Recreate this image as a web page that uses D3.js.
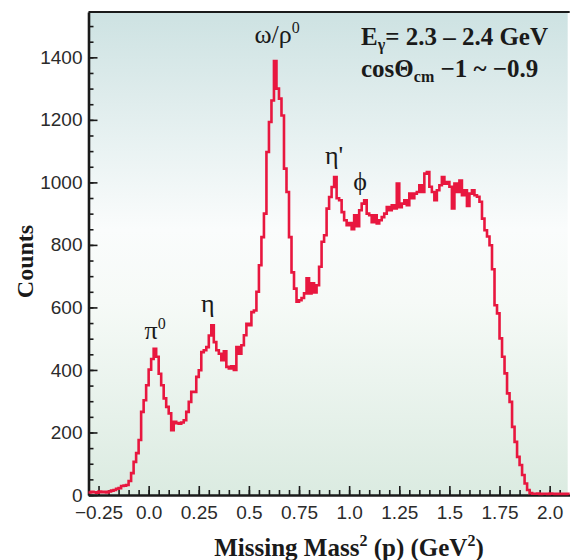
<!DOCTYPE html>
<html>
<head>
<meta charset="utf-8">
<script src="https://cdnjs.cloudflare.com/ajax/libs/d3/7.8.5/d3.min.js"></script>
<style>
    body { margin: 0; background: #fff; }
    svg { display: block; }
</style>
</head>
<body>
<div id="plot"></div>
<script>
// histogram of missing mass squared, bins of 0.0125 GeV^2 starting at -0.3
const binStart = -0.3;
const binWidth = 0.0125;
const counts = [
    8, 10, 9, 7, 11, 9, 10, 8, 11, 14, 16, 20, 22, 29, 30, 32,
    45, 70, 106, 134, 176,
    266, 303, 351, 401, 435, 468, 442, 388, 351, 309,
    282, 261, 207, 234, 230, 228, 232, 239, 266, 298,
    330, 330, 378, 399, 457, 463, 473, 510, 543, 489,
    463, 452, 431, 460, 410, 405, 412, 400, 473, 452,
    479, 511, 548, 543, 585, 590, 650, 735, 825, 900,
    1097, 1193, 1262, 1388, 1300, 1268, 1214, 1044, 969, 825,
    712, 660, 618, 623, 630, 645, 693, 645, 677, 648,
    671, 730, 810, 831, 916, 953, 985, 1017, 949, 943,
    905, 879, 863, 870, 850, 895, 860, 911, 932, 943,
    900, 895, 873, 895, 869, 879, 889, 900, 921, 911,
    927, 917, 996, 921, 932, 943, 927, 964, 949, 964,
    969, 991, 969, 1028, 1033, 986, 969, 943, 975, 991,
    1017, 996, 1001, 986, 917, 996, 969, 1006, 959, 975,
    925, 964, 975, 959, 954, 938,
    884, 847, 827, 799, 722, 607, 581, 501, 442, 389,
    325, 298, 218, 170, 122, 96, 64, 37, 16, 6,
    4, 4, 5, 3, 4, 4, 3, 5, 4, 3, 4, 3, 4, 3, 4
];

const xTicks = [-0.25, 0, 0.25, 0.5, 0.75, 1.0, 1.25, 1.5, 1.75, 2.0];
const xTickLabels = ["\u22120.25", "0.0", "0.25", "0.5", "0.75", "1.0", "1.25", "1.5", "1.75", "2.0"];
const yTicks = [0, 200, 400, 600, 800, 1000, 1200, 1400];

// peak annotations (position in data units)
const peakBase = ["\u03c0", "\u03b7", "\u03c9/\u03c1", "\u03b7'", "\u03d5"];
const peakSup = ["0", "", "0", "", ""];
const peakX = [0.032, 0.295, 0.641, 0.925, 1.055];
const peakY = [498, 585, 1445, 1060, 975];

const serif = "'Liberation Serif', 'Times New Roman', serif";
const sans = "'Liberation Sans', Arial, sans-serif";

const width = 570, height = 560;

let svg = d3.select("#plot").append("svg")
    .attr("width", width)
    .attr("height", height);

let xScale = d3.scaleLinear().domain([-0.3, 2.1]).range([88.5, 569.7]);
let yScale = d3.scaleLinear().domain([0, 1545]).range([495, 12]);

let x0 = xScale.range()[0], x1 = xScale.range()[1];
let y0 = yScale.range()[0], y1 = yScale.range()[1];

// background gradient
let grad = svg.append("defs").append("linearGradient")
    .attr("id", "bg")
    .attr("x1", 0).attr("y1", 0).attr("x2", 0).attr("y2", 1);
grad.append("stop").attr("offset", "0%").attr("stop-color", "#cde2e2");
grad.append("stop").attr("offset", "45%").attr("stop-color", "#fafcfc");
grad.append("stop").attr("offset", "60%").attr("stop-color", "#f6faf7");
grad.append("stop").attr("offset", "100%").attr("stop-color", "#dbebe1");

svg.append("rect")
    .attr("x", x0).attr("y", y1)
    .attr("width", x1 - x0 - 2).attr("height", y0 - y1)
    .attr("fill", "url(#bg)");

// top frame
svg.append("line")
    .attr("x1", x0).attr("x2", x1)
    .attr("y1", y1).attr("y2", y1)
    .attr("stroke", "#1a1a1a").attr("stroke-width", 2);

//Add the x Axis (minor + major ticks, pointing inward)
let xMinor = d3.range(-6, 42).map((d) => d * 0.05);
svg.append("g")
    .attr("transform", "translate(0," + y0 + ")")
    .call(d3.axisBottom(xScale).tickValues(xMinor).tickSize(-5).tickSizeOuter(0).tickFormat(""))
    .call((g) => g.select(".domain").remove());

let xAxis = svg.append("g")
    .attr("transform", "translate(0," + y0 + ")")
    .call(d3.axisBottom(xScale).tickValues(xTicks).tickSize(-9).tickSizeOuter(0).tickPadding(11)
        .tickFormat((d, i) => xTickLabels[i]));

//Add the y Axis
let yMinor = d3.range(0, 31).map((d) => d * 50);
svg.append("g")
    .attr("transform", "translate(" + x0 + ",0)")
    .call(d3.axisLeft(yScale).tickValues(yMinor).tickSize(-5).tickSizeOuter(0).tickFormat(""))
    .call((g) => g.select(".domain").remove());

let yAxis = svg.append("g")
    .attr("transform", "translate(" + x0 + ",0)")
    .call(d3.axisLeft(yScale).tickValues(yTicks).tickSize(-9).tickSizeOuter(0).tickPadding(6)
        .tickFormat(d3.format("d")));

svg.selectAll(".tick line").attr("stroke", "#1a1a1a").attr("stroke-width", 1.6);
svg.selectAll(".domain").attr("stroke", "#1a1a1a").attr("stroke-width", 2.6);
svg.selectAll(".tick text")
    .attr("font-family", sans)
    .attr("font-size", 19)
    .attr("fill", "#2b2b2b");

// histogram outline
let steps = counts.map((c, i) => ({ x: binStart + i * binWidth, y: c }));
steps.push({ x: binStart + counts.length * binWidth, y: counts[counts.length - 1] });

let line = d3.line()
    .x((d) => xScale(d.x))
    .y((d) => yScale(d.y))
    .curve(d3.curveStepAfter);

svg.append("path")
    .datum(steps)
    .attr("fill", "none")
    .attr("stroke", "#e8173f")
    .attr("stroke-width", 2.6)
    .attr("stroke-linejoin", "miter")
    .attr("d", line);

// peak labels
peakBase.forEach((name, i) => {
    let t = svg.append("text")
        .attr("x", xScale(peakX[i]))
        .attr("y", yScale(peakY[i]))
        .attr("text-anchor", "middle")
        .attr("font-family", serif)
        .attr("font-size", 26)
        .attr("fill", "#1a1a1a");
    t.append("tspan").text(name);
    if (peakSup[i])
        t.append("tspan").attr("font-size", 16).attr("dy", -10).text(peakSup[i]);
});

// beam energy / angle box
let info1 = svg.append("text")
    .attr("x", 361).attr("y", 45)
    .attr("font-family", serif).attr("font-weight", "bold")
    .attr("font-size", 25).attr("fill", "#1a1a1a");
info1.append("tspan").text("E");
info1.append("tspan").attr("font-size", 16).attr("dy", 5).text("\u03b3");
info1.append("tspan").attr("dy", -5).text("= 2.3 \u2013 2.4 GeV");

let info2 = svg.append("text")
    .attr("x", 361).attr("y", 77)
    .attr("font-family", serif).attr("font-weight", "bold")
    .attr("font-size", 25).attr("fill", "#1a1a1a");
info2.append("tspan").text("cos\u0398");
info2.append("tspan").attr("font-size", 16).attr("dy", 5).text("cm");
info2.append("tspan").attr("dy", -5).text(" \u22121 ~ \u22120.9");

// axis titles
svg.append("text")
    .attr("transform", "translate(33," + ((y0 + y1) / 2 + 8) + ") rotate(-90)")
    .attr("text-anchor", "middle")
    .attr("font-family", serif).attr("font-weight", "bold")
    .attr("font-size", 24).attr("fill", "#1a1a1a")
    .text("Counts");

let xTitle = svg.append("text")
    .attr("x", 349).attr("y", 556)
    .attr("text-anchor", "middle")
    .attr("font-family", serif).attr("font-weight", "bold")
    .attr("font-size", 25).attr("fill", "#1a1a1a");
xTitle.append("tspan").text("Missing Mass");
xTitle.append("tspan").attr("font-size", 16).attr("dy", -10).text("2");
xTitle.append("tspan").attr("dy", 10).text(" (p) (GeV");
xTitle.append("tspan").attr("font-size", 16).attr("dy", -10).text("2");
xTitle.append("tspan").attr("dy", 10).text(")");
</script>
</body>
</html>
